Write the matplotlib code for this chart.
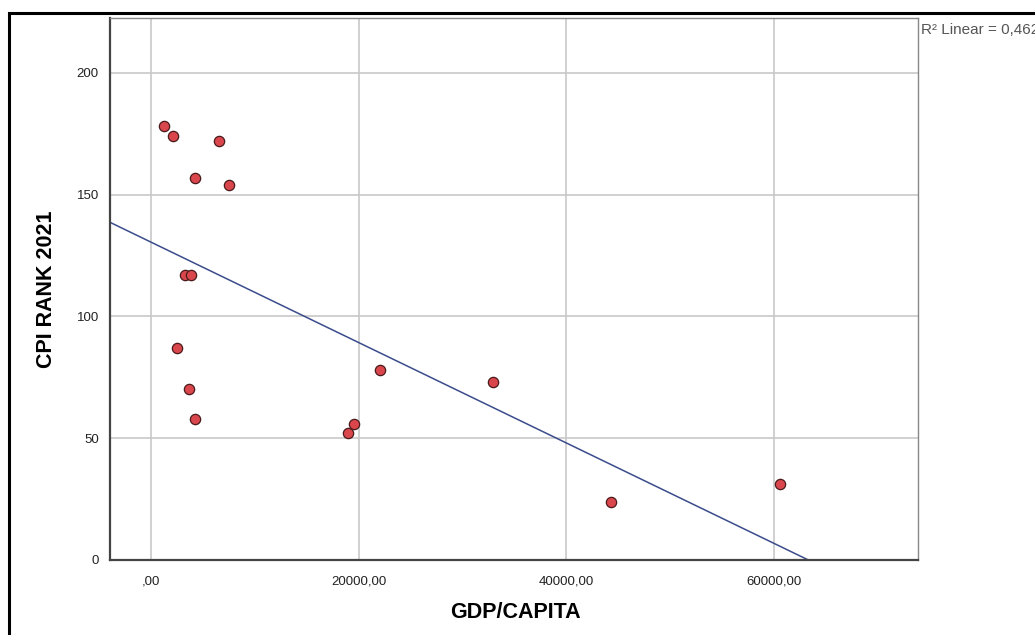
import numpy as np
import matplotlib.pyplot as plt
from matplotlib.patches import Rectangle
from matplotlib.ticker import FuncFormatter

# GDP per capita vs CPI rank 2021
gdp_capita = [1250, 2120, 6550, 4240, 7510, 3270, 3850, 2500, 3660, 4240,
              18970, 19550, 22050, 32930, 44290, 60560]
cpi_rank = [178, 174, 172, 157, 154, 117, 117, 87, 70, 58,
            52, 56, 78, 73, 24, 31]

x_ticks = [0, 20000, 40000, 60000]
y_ticks = [0, 50, 100, 150, 200]

plt.rcParams['font.family'] = ['Liberation Sans', 'DejaVu Sans']

fig = plt.figure(figsize=(10.35, 6.35), dpi=100)

# outer frame around the output
fig.patches.append(Rectangle((9 / 1035, -0.01), 1.05, 1 - 12.5 / 635 + 0.01,
                             transform=fig.transFigure, fill=False,
                             edgecolor='black', linewidth=2.2))

ax = fig.add_axes([110 / 1035, 1 - 560 / 635, 808 / 1035, 542 / 635])

x = np.array(gdp_capita, dtype=float)
y = np.array(cpi_rank, dtype=float)
slope, intercept = np.polyfit(x, y, 1)
r2 = np.corrcoef(x, y)[0, 1] ** 2

xmin, xmax = -3950, 73850
ax.set_xlim(xmin, xmax)
ax.set_ylim(0, 222.5)

xs = np.array([xmin, xmax])
ax.plot(xs, intercept + slope * xs, color='#3b4c8c', linewidth=1.1, zorder=2)
ax.scatter(x, y, s=55, color='#d9474c', edgecolor='#4a1a1a', linewidth=0.9, zorder=3)

ax.set_xticks(x_ticks)
ax.set_yticks(y_ticks)
ax.xaxis.set_major_formatter(FuncFormatter(lambda v, p: ',00' if v == 0 else f'{v:.0f},00'))
ax.grid(True, color='#c8c8c8', linewidth=1.2)
ax.set_axisbelow(True)
ax.tick_params(length=0, labelsize=9.5, colors='#222222')
ax.tick_params(axis='x', pad=11)
ax.tick_params(axis='y', pad=8)

for s in ['top', 'right']:
    ax.spines[s].set_color('#888888')
    ax.spines[s].set_linewidth(1.0)
for s in ['left', 'bottom']:
    ax.spines[s].set_color('#444444')
    ax.spines[s].set_linewidth(1.6)

fig.text(515 / 1035, 1 - 612 / 635, 'GDP/CAPITA', fontsize=15.5, fontweight='bold',
         ha='center', va='center')
fig.text(47 / 1035, 1 - 289 / 635, 'CPI RANK 2021', fontsize=15.5, fontweight='bold',
         ha='center', va='center', rotation=90)

fig.text(921 / 1035, 1 - 30 / 635, f'R² Linear = {r2:.3f}'.replace('.', ','),
         fontsize=11, color='#555555', va='center', ha='left')

plt.savefig('out.png', dpi=100)
